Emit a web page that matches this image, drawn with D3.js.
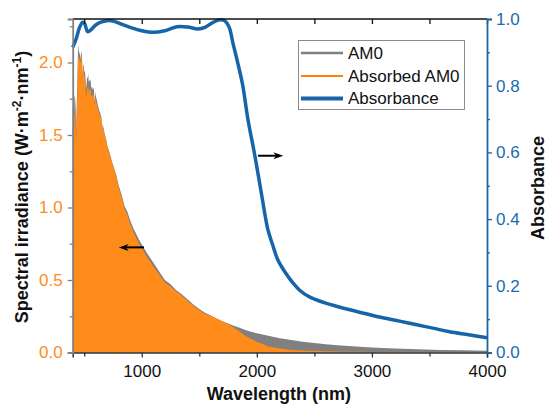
<!DOCTYPE html>
<html>
<head>
<meta charset="utf-8">
<script src="https://cdn.jsdelivr.net/npm/d3@7"></script>
<style>
  body { margin: 0; background: #fff; }
  svg { display: block; font-family: "Liberation Sans", Arial, sans-serif; }
</style>
</head>
<body>
<svg id="chart" width="547" height="405"></svg>
<script>
// ---- Data ----
const wavelength = [400,405,410,415,420,425,430,435,440,445,450,455,460,465,470,475,480,485,490,495,500,505,510,515,520,525,530,535,540,545,550,555,560,565,570,575,580,585,590,595,600,610,620,630,640,650,656,660,670,680,690,700,720,740,760,780,800,825,850,875,900,925,950,975,1000,1050,1100,1150,1200,1250,1300,1350,1400,1450,1500,1550,1600,1650,1700,1750,1800,1850,1900,1950,2000,2100,2200,2300,2400,2500,2600,2700,2800,2900,3000,3200,3400,3600,3800,4000];
const am0 = [1.69,1.72,1.60,1.78,1.76,1.70,1.52,1.72,1.85,2.05,2.12,2.08,2.06,2.05,2.02,2.07,2.07,1.90,1.99,1.98,1.93,1.95,1.91,1.82,1.84,1.90,1.89,1.92,1.86,1.88,1.87,1.89,1.83,1.83,1.81,1.83,1.82,1.81,1.72,1.80,1.77,1.74,1.70,1.67,1.65,1.62,1.50,1.58,1.54,1.50,1.47,1.43,1.38,1.32,1.27,1.22,1.15,1.09,1.01,0.97,0.91,0.86,0.82,0.78,0.745,0.68,0.62,0.56,0.50,0.47,0.43,0.40,0.365,0.33,0.30,0.275,0.255,0.235,0.215,0.20,0.185,0.17,0.155,0.143,0.133,0.115,0.099,0.086,0.075,0.065,0.057,0.050,0.044,0.039,0.034,0.027,0.022,0.018,0.015,0.012];
const absorbedAm0 = [1.546,1.58,1.48,1.655,1.646,1.60,1.436,1.634,1.776,1.978,2.056,2.028,2.019,2.015,1.992,2.045,2.049,1.881,1.970,1.956,1.901,1.915,1.862,1.765,1.776,1.828,1.818,1.849,1.793,1.816,1.808,1.830,1.771,1.775,1.759,1.782,1.776,1.770,1.686,1.766,1.738,1.714,1.678,1.650,1.634,1.605,1.488,1.567,1.529,1.491,1.463,1.423,1.373,1.312,1.261,1.208,1.135,1.073,0.990,0.949,0.887,0.836,0.795,0.754,0.719,0.654,0.595,0.539,0.483,0.456,0.420,0.391,0.356,0.321,0.291,0.268,0.251,0.234,0.215,0.196,0.170,0.145,0.116,0.093,0.074,0.041,0.027,0.018,0.013,0.010,0.0084,0.0069,0.0056,0.0047,0.0038,0.0026,0.0018,0.0012,0.0008,0.0005];
const absWavelength = [400,430,460,487,505,530,560,600,640,700,760,811,900,1000,1100,1200,1306,1400,1489,1550,1620,1680,1720,1760,1791,1840,1878,1922,1983,2043,2095,2140,2182,2243,2313,2374,2461,2591,2700,2808,2950,3095,3240,3389,3530,3675,3840,4000];
const absorbance = [0.915,0.94,0.975,0.99,0.985,0.962,0.968,0.982,0.99,0.995,0.993,0.986,0.975,0.965,0.96,0.965,0.977,0.976,0.97,0.975,0.99,0.998,0.995,0.975,0.93,0.86,0.80,0.70,0.59,0.47,0.37,0.32,0.278,0.242,0.209,0.186,0.166,0.149,0.138,0.128,0.116,0.104,0.094,0.083,0.073,0.062,0.053,0.044];
const xTicks = [1000, 2000, 3000, 4000];
const xMinorTicks = [500, 1500, 2500, 3500];
const yLeftTicks = [0, 0.5, 1.0, 1.5, 2.0];
const yLeftMinor = [0.25, 0.75, 1.25, 1.75, 2.25];
const yRightTicks = [0, 0.2, 0.4, 0.6, 0.8, 1.0];
const yRightMinor = [0.1, 0.3, 0.5, 0.7, 0.9];
const legendLabels = ["AM0", "Absorbed AM0", "Absorbance"];

// ---- Styles ----
const cGray = "#808080", cOrange = "#ff8c1a", cOrangeLine = "#ff7f0e", cBlue = "#1565a8", cBlueText = "#1a6bae";
const svg = d3.select("#chart");
const L = 72.7, R = 487, T = 19, B = 352.5;

const x = d3.scaleLinear().domain([400, 4000]).range([L, R]);
const yL = d3.scaleLinear().domain([0, 2.3]).range([B, T]);
const yR = d3.scaleLinear().domain([0, 1.0]).range([B, T]);

const am0Pts = wavelength.map((w, i) => [w, am0[i]]);
const absdPts = wavelength.map((w, i) => [w, absorbedAm0[i]]);
const absPts = absWavelength.map((w, i) => [w, absorbance[i]]);

const area = d3.area().x(d => x(d[0])).y0(yL(0)).y1(d => yL(d[1]));
svg.append("path").datum(am0Pts).attr("d", area).attr("fill", cGray);
svg.append("path").datum(absdPts).attr("d", area).attr("fill", cOrange);

svg.append("path").datum(absPts)
  .attr("d", d3.line().x(d => x(d[0])).y(d => yR(d[1])).curve(d3.curveCatmullRom.alpha(0.5)))
  .attr("fill", "none").attr("stroke", cBlue).attr("stroke-width", 3.5);

// ---- Axes ----
const fmt = d3.format(".1f");
// bottom
const gB = svg.append("g").attr("transform", `translate(0,${B})`);
gB.call(d3.axisBottom(x).tickValues(xTicks).tickSize(5).tickFormat(d3.format("d")));
gB.call(g => g.select(".domain").attr("stroke", "#333").attr("stroke-width", 1.5));
gB.selectAll("text").attr("font-size", 17).attr("fill", "#111").attr("dy", "0.95em").attr("font-family", "Liberation Sans, Arial");
gB.selectAll(".tick line").attr("stroke", "#333").attr("stroke-width", 1.3);
const gBm = svg.append("g").attr("transform", `translate(0,${B})`);
gBm.call(d3.axisBottom(x).tickValues(xMinorTicks).tickSize(4).tickFormat(""));
gBm.select(".domain").remove();
gBm.selectAll(".tick line").attr("stroke", "#333").attr("stroke-width", 1.3);

// top
svg.append("line").attr("x1", L).attr("x2", R).attr("y1", T).attr("y2", T).attr("stroke", "#111").attr("stroke-width", 1.5);
const gT = svg.append("g").attr("transform", `translate(0,${T})`);
gT.call(d3.axisBottom(x).tickValues(xTicks.concat(xMinorTicks)).tickSize(5).tickFormat(""));
gT.select(".domain").remove();
gT.selectAll(".tick line").attr("stroke", "#111").attr("stroke-width", 1.3);

// left
const gL = svg.append("g").attr("transform", `translate(${L},0)`);
gL.call(d3.axisLeft(yL).tickValues(yLeftTicks).tickSize(5).tickFormat(fmt));
gL.select(".domain").attr("stroke", cGray).attr("stroke-width", 1.8);
gL.selectAll(".tick line").attr("stroke", cGray).attr("stroke-width", 1.3);
gL.selectAll("text").attr("font-size", 17).attr("fill", cOrange).attr("x", -10).attr("font-family", "Liberation Sans, Arial");
const gLm = svg.append("g").attr("transform", `translate(${L},0)`);
gLm.call(d3.axisLeft(yL).tickValues(yLeftMinor.filter(v => v <= 2.3)).tickSize(3).tickFormat(""));
gLm.select(".domain").remove();
gLm.selectAll(".tick line").attr("stroke", cGray).attr("stroke-width", 1.3);

// right
const gR = svg.append("g").attr("transform", `translate(${R},0)`);
gR.call(d3.axisRight(yR).tickValues(yRightTicks).tickSize(5).tickFormat(fmt));
gR.select(".domain").attr("stroke", cBlue).attr("stroke-width", 1.8);
gR.selectAll(".tick line").attr("stroke", cBlue).attr("stroke-width", 1.3);
gR.selectAll("text").attr("font-size", 17).attr("fill", cBlueText).attr("x", 9).attr("font-family", "Liberation Sans, Arial");
const gRm = svg.append("g").attr("transform", `translate(${R},0)`);
gRm.call(d3.axisRight(yR).tickValues(yRightMinor).tickSize(3).tickFormat(""));
gRm.select(".domain").remove();
gRm.selectAll(".tick line").attr("stroke", cBlue).attr("stroke-width", 1.3);

// ---- Axis titles ----
svg.append("text").attr("x", (L + R) / 2 - 1).attr("y", 400)
  .attr("text-anchor", "middle").attr("font-size", 18).attr("font-weight", "bold").attr("fill", "#111")
  .text("Wavelength (nm)");

const yt = svg.append("text").attr("transform", "translate(28,187) rotate(-90)")
  .attr("text-anchor", "middle").attr("font-size", 18).attr("font-weight", "bold").attr("fill", "#111");
yt.append("tspan").text("Spectral irradiance (W·m");
yt.append("tspan").attr("font-size", 12).attr("dy", -7).text("-2");
yt.append("tspan").attr("dy", 7).text("·nm");
yt.append("tspan").attr("font-size", 12).attr("dy", -7).text("-1");
yt.append("tspan").attr("dy", 7).text(")");

svg.append("text").attr("transform", "translate(544,188) rotate(-90)")
  .attr("text-anchor", "middle").attr("font-size", 18).attr("font-weight", "bold").attr("fill", "#111")
  .text("Absorbance");

// ---- Legend ----
const lg = svg.append("g");
lg.append("rect").attr("x", 298.5).attr("y", 40.5).attr("width", 166).attr("height", 69)
  .attr("fill", "#fff").attr("stroke", "#8c8c8c").attr("stroke-width", 1);
const legColors = [cGray, cOrangeLine, cBlue];
const legWidths = [2.5, 2, 4];
const legY = [53, 76, 98.5];
legendLabels.forEach((lab, i) => {
  lg.append("line").attr("x1", 301).attr("x2", 343).attr("y1", legY[i]).attr("y2", legY[i])
    .attr("stroke", legColors[i]).attr("stroke-width", legWidths[i]);
  lg.append("text").attr("x", 348).attr("y", legY[i]).attr("dy", "0.35em")
    .attr("font-size", 17).attr("fill", "#111").text(lab);
});

// ---- Arrows ----
function arrow(x1, x2, yy) {
  const dir = Math.sign(x2 - x1);
  svg.append("line").attr("x1", x1).attr("x2", x2 - dir * 6).attr("y1", yy).attr("y2", yy)
    .attr("stroke", "#000").attr("stroke-width", 2);
  svg.append("path").attr("d", `M${x2},${yy} L${x2 - dir * 10},${yy - 3.5} L${x2 - dir * 7},${yy} L${x2 - dir * 10},${yy + 3.5} Z`)
    .attr("fill", "#000");
}
arrow(x(1020), x(800), yL(0.725));
arrow(x(2010), x(2230), yR(0.59));
</script>
</body>
</html>
